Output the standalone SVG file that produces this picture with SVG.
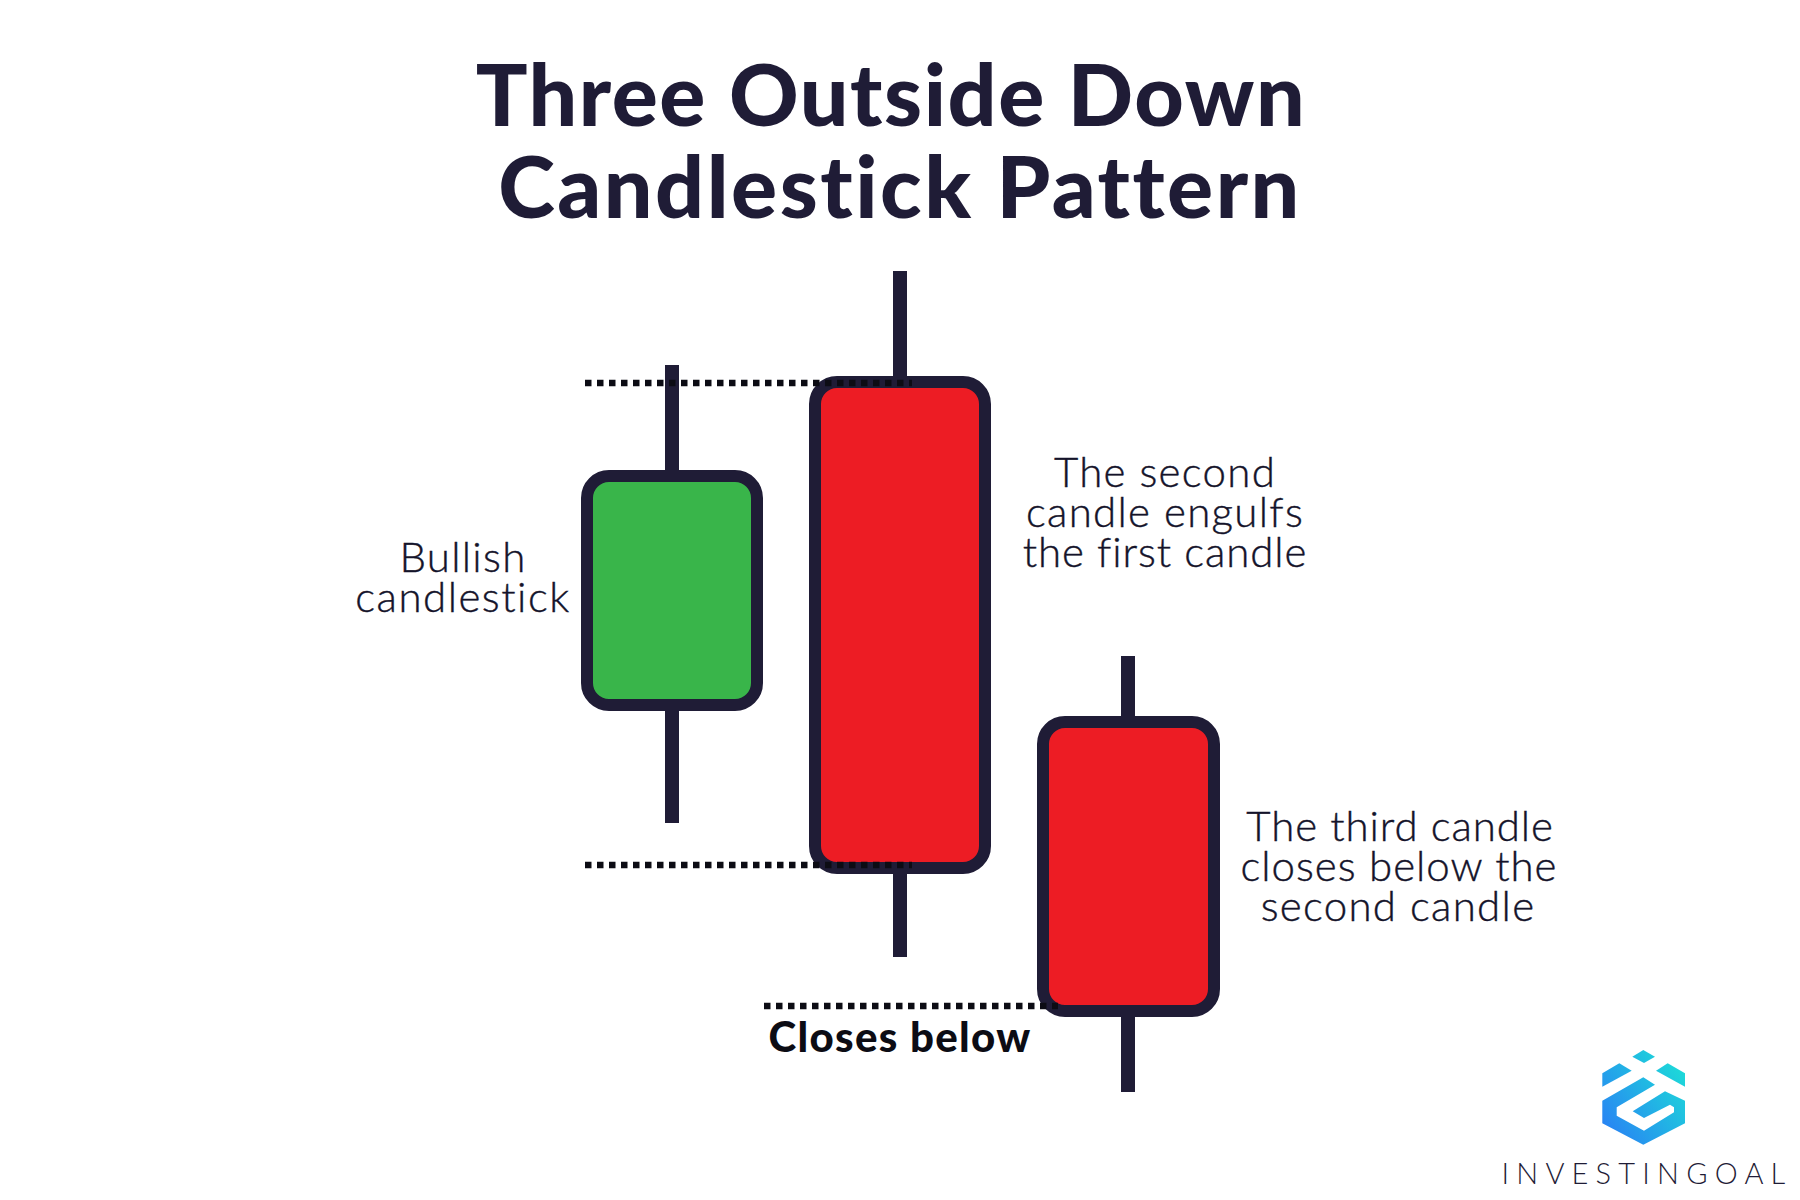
<svg xmlns="http://www.w3.org/2000/svg" width="1800" height="1200" viewBox="0 0 1800 1200">
<style>
text{font-variant-ligatures:none}
.title{font-family:"Lato","Liberation Sans",sans-serif;font-weight:900;font-size:86px;fill:#1f1c36;text-anchor:middle;letter-spacing:1.55px}
.lbl{font-family:"Lato","Liberation Sans",sans-serif;font-weight:300;font-size:42px;fill:#14132a;stroke:#14132a;stroke-width:.4px;text-anchor:middle;letter-spacing:1.3px}
.bold{font-family:"Lato","Liberation Sans",sans-serif;font-weight:900;font-size:42px;fill:#0c0c14;text-anchor:middle;letter-spacing:1.3px}
.wick{fill:#1f1c36}
.body{stroke:#1f1c36;stroke-width:12}
.dots{stroke:#0c0c14;stroke-width:6.5;stroke-dasharray:6.5 5.5;fill:none}
</style>
<defs>
<linearGradient id="g" gradientUnits="userSpaceOnUse" x1="1600" y1="1140" x2="1690" y2="1075">
<stop offset="0" stop-color="#2a7bf6"/><stop offset="1" stop-color="#1cdcd8"/>
</linearGradient>
</defs>
<rect width="1800" height="1200" fill="#fff"/>
<g id="title">
<text class="title" x="891" y="126">Three Outside Down</text>
<text class="title" x="900" y="218" style="letter-spacing:2.5px">Candlestick Pattern</text>
</g>
<g id="candle-1">
<rect class="wick" x="665" y="365" width="14" height="458"/>
<rect class="body" x="587" y="476" width="170" height="229" rx="22" fill="#39b54a"/>
</g>
<g id="candle-2">
<rect class="wick" x="893" y="271" width="14" height="686"/>
<rect class="body" x="815" y="382" width="170" height="486" rx="22" fill="#ed1c24"/>
</g>
<g id="candle-3">
<rect class="wick" x="1121" y="656" width="14" height="436"/>
<rect class="body" x="1043" y="722" width="171" height="289" rx="22" fill="#ed1c24"/>
</g>
<g id="connectors">
<path class="dots" d="M585 383H912"/>
<path class="dots" d="M585 865H912"/>
<path class="dots" d="M764 1006H1058"/>
</g>
<g id="label-bullish">
<text class="lbl" x="463" y="572">Bullish</text>
<text class="lbl" x="463" y="612" style="letter-spacing:1.5px">candlestick</text>
</g>
<g id="label-second">
<text class="lbl" x="1165" y="487">The second</text>
<text class="lbl" x="1165" y="527">candle engulfs</text>
<text class="lbl" x="1165" y="567" style="letter-spacing:.9px">the first candle</text>
</g>
<g id="label-third">
<text class="lbl" x="1400" y="841" style="letter-spacing:.9px">The third candle</text>
<text class="lbl" x="1399" y="881" style="letter-spacing:1px">closes below the</text>
<text class="lbl" x="1398" y="921">second candle</text>
</g>
<g id="label-closes">
<text class="bold" x="900" y="1052">Closes below</text>
</g>
<g id="logo" transform="translate(0,-1)">
<g fill="url(#g)">
<polygon points="1643.3,1051 1655,1057.7 1644,1064 1632.3,1057.7"/>
<polygon points="1602.3,1074.3 1619.3,1064.3 1631.7,1071.7 1602.3,1087.7"/>
<polygon points="1667.7,1064.3 1685,1074.3 1685,1087.7 1656,1071.7"/>
<polygon points="1643.3,1078.3 1655,1085.7 1616.7,1108.3 1616.7,1116.7 1644,1131.7 1674,1113.3 1674,1108.3 1670,1105.7 1644,1119 1632.7,1112.3 1665,1092.3 1685,1101.7 1685,1124.3 1643.3,1145.7 1602.3,1124.3 1602.3,1101.7"/>
</g>
<text x="1647" y="1185" font-family="Lato,'Liberation Sans',sans-serif" font-weight="300" font-size="29" letter-spacing="7.2" text-anchor="middle" fill="#1f1c36">INVESTINGOAL</text>
</g>
</svg>
